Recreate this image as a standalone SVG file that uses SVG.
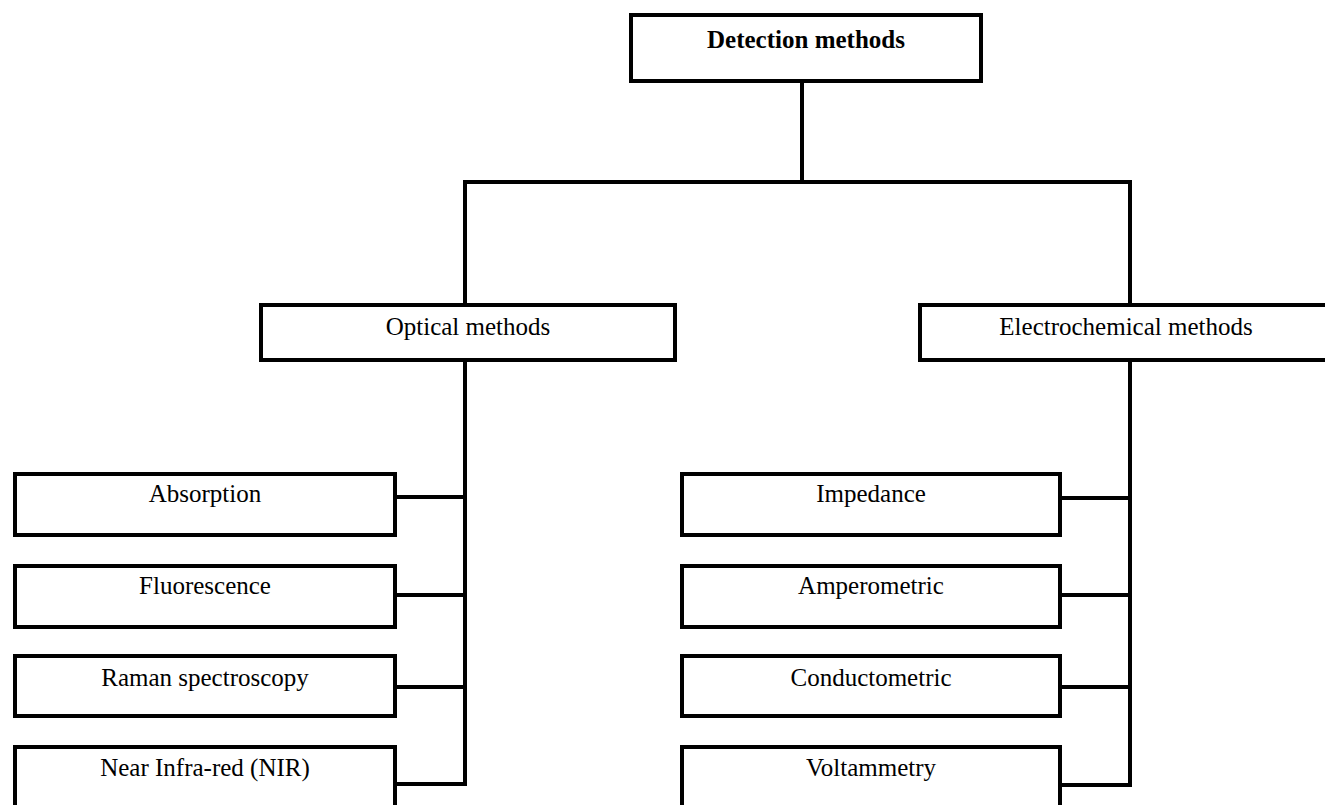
<svg xmlns="http://www.w3.org/2000/svg" width="1325" height="805" viewBox="0 0 1325 805">
<style>
.box{fill:#fff;stroke:#000;stroke-width:4}
.lbl{font-family:"Liberation Serif","Times New Roman",serif;font-size:25px;fill:#000;text-anchor:middle}
.b{font-weight:bold}
.con{fill:none;stroke:#000;stroke-width:4;stroke-linecap:square}
</style>
<rect width="1325" height="805" fill="#fff"/>
<g id="connectors">
<path class="con" d="M802 83 V182 M465 182 H1130 M465 182 V303 M1130 182 V303"/>
<path class="con" d="M465 362 V784 M397 497 H465 M397 595 H465 M397 687 H465 M397 784 H465"/>
<path class="con" d="M1130 362 V785 M1062 498 H1130 M1062 595 H1130 M1062 687 H1130 M1062 785 H1130"/>
</g>
<g id="detection"><rect class="box" x="631" y="15" width="350" height="66"/><text class="lbl b" x="806" y="48">Detection methods</text></g>
<g id="optical"><rect class="box" x="261" y="305" width="414" height="55"/><text class="lbl" x="468" y="335">Optical methods</text></g>
<g id="electrochemical"><rect class="box" x="920" y="305" width="411" height="55"/><text class="lbl" x="1126" y="335">Electrochemical methods</text></g>
<g id="absorption"><rect class="box" x="15" y="474" width="380" height="61"/><text class="lbl" x="205" y="502">Absorption</text></g>
<g id="fluorescence"><rect class="box" x="15" y="566" width="380" height="61"/><text class="lbl" x="205" y="594">Fluorescence</text></g>
<g id="raman"><rect class="box" x="15" y="656" width="380" height="60"/><text class="lbl" x="205" y="686">Raman spectroscopy</text></g>
<g id="nir"><rect class="box" x="15" y="747" width="380" height="61"/><text class="lbl" x="205" y="776">Near Infra-red (NIR)</text></g>
<g id="impedance"><rect class="box" x="682" y="474" width="378" height="61"/><text class="lbl" x="871" y="502">Impedance</text></g>
<g id="amperometric"><rect class="box" x="682" y="566" width="378" height="61"/><text class="lbl" x="871" y="594">Amperometric</text></g>
<g id="conductometric"><rect class="box" x="682" y="656" width="378" height="60"/><text class="lbl" x="871" y="686">Conductometric</text></g>
<g id="voltammetry"><rect class="box" x="682" y="747" width="378" height="61"/><text class="lbl" x="871" y="776">Voltammetry</text></g>
</svg>
